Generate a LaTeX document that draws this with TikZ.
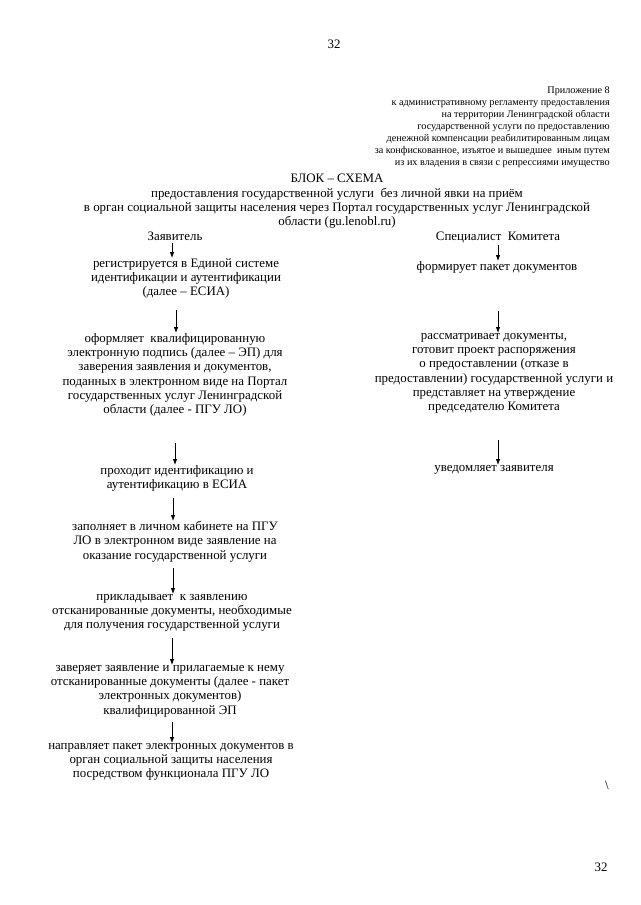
\documentclass[tikz,border=0pt]{standalone}
\usepackage{fontspec}
\setmainfont{Liberation Serif}
\usetikzlibrary{arrows.meta}
\begin{document}
\begin{tikzpicture}[x=1pt,y=-1pt,
  txt/.style={inner sep=0pt, anchor=north, align=center, font=\fontsize{12.9}{14.3}\selectfont},
  hdr/.style={inner sep=0pt, anchor=north east, align=right, font=\fontsize{10.2}{12}\selectfont},
  arr/.style={-{Latex[length=6pt,width=4.5pt]}, line width=0.8pt}]
\useasboundingbox (0,0) rectangle (640,905);
\fill[white] (0,0) rectangle (640,905);
\coordinate (L1) at (172,0);
\coordinate (L2) at (176,0);
\coordinate (L3) at (175,0);
\coordinate (L4) at (173,0);
\coordinate (R) at (498,0);

\node[txt] (pg1) at (334,40) {32};
\node[hdr] (app) at (610,87) {Приложение 8\\
к  административному регламенту предоставления\\
на территории Ленинградской области\\
государственной услуги по  предоставлению\\
денежной компенсации реабилитированным лицам\\
за конфискованное, изъятое и вышедшее~ иным путем\\
из их владения в связи с репрессиями имущество};

\node[txt] (title) at (337,174) {БЛОК – СХЕМА\\
предоставления государственной услуги~ без личной явки на приём\\
в орган социальной защиты населения через Портал государственных услуг Ленинградской\\
области (gu.lenobl.ru)};

\node[txt] (z) at (175,232) {Заявитель};
\node[txt] (s) at (498,232) {Специалист~ Комитета};

\node[txt] (t1) at (186,258) {регистрируется в Единой системе\\
идентификации и аутентификации\\
(далее – ЕСИА)};
\node[txt] (t2) at (175,333) {оформляет~ квалифицированную\\
электронную подпись (далее – ЭП) для\\
заверения заявления и документов,\\
поданных в электронном виде на Портал\\
государственных услуг Ленинградской\\
области (далее - ПГУ ЛО)};
\node[txt] (t3) at (177,465) {проходит идентификацию и\\
аутентификацию в ЕСИА};
\node[txt] (t4) at (175,521) {заполняет в личном кабинете на ПГУ\\
ЛО в электронном виде заявление на\\
оказание государственной услуги};
\node[txt] (t5) at (172,594) {прикладывает~ к заявлению\\
отсканированные документы, необходимые\\
для получения государственной услуги};
\node[txt] (t6) at (170,665) {заверяет заявление и прилагаемые к нему\\
отсканированные документы (далее - пакет\\
электронных документов)\\
квалифицированной ЭП};
\node[txt] (t7) at (171,743) {направляет пакет электронных документов в\\
орган социальной защиты населения\\
посредством функционала ПГУ ЛО};

\node[txt] (r1) at (497,261) {формирует пакет документов};
\node[txt] (r2) at (494,333) {рассматривает документы,\\
готовит проект распоряжения\\
о предоставлении (отказе в\\
предоставлении) государственной услуги и\\
представляет на утверждение\\
председателю Комитета};
\node[txt] (r3) at (494,465) {уведомляет заявителя};

\node[txt] (bs) at (607,781) {\textbackslash};
\node[txt] (pg2) at (601,863) {32};

\draw[arr, shorten <=2pt] (z.south -| L1) -- (t1.north -| L1);
\draw[arr, shorten <=11pt] (t1.south -| L2) -- (t2.north -| L2);
\draw[arr, shorten <=26pt] (t2.south -| L3) -- (t3.north -| L3);
\draw[arr, shorten <=7pt] (t3.south -| L4) -- (t4.north -| L4);
\draw[arr, shorten <=6pt] (t4.south -| L4) -- (t5.north -| L4);
\draw[arr, shorten <=6pt] (t5.south -| L1) -- (t6.north -| L1);
\draw[arr, shorten <=5pt] (t6.south -| L1) -- (t7.north -| L1);
\draw[arr, shorten <=2pt] (s.south -| R) -- (r1.north -| R);
\draw[arr, shorten <=38pt] (r1.south -| R) -- (r2.north -| R);
\draw[arr, shorten <=26pt] (r2.south -| R) -- (r3.north -| R);
\end{tikzpicture}
\end{document}
